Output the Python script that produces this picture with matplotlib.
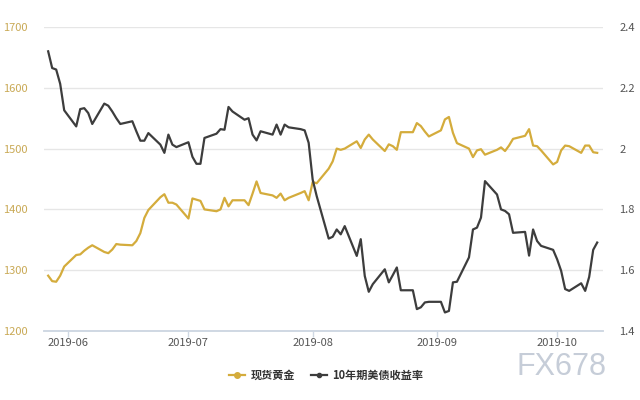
import matplotlib
matplotlib.use("Agg")
import matplotlib.pyplot as plt
import matplotlib.dates as mdates
from matplotlib.lines import Line2D
import pandas as pd

plt.rcParams["font.family"] = ["Noto Sans CJK SC", "DejaVu Sans"]

# trading days 2019-05-27 .. 2019-10-11
dates = pd.bdate_range("2019-05-27", "2019-10-11")

gold = [
    1291, 1282, 1281, 1291, 1306,
    1325, 1326, 1332, 1337, 1341,
    1330, 1328, 1334, 1343, 1342,
    1341, 1348, 1361, 1386, 1399,
    1420, 1425, 1411, 1411, 1408,
    1385, 1418, 1416, 1414, 1400,
    1397, 1400, 1419, 1405, 1415,
    1415, 1407, 1426, 1446, 1427,
    1423, 1419, 1426, 1415, 1419,
    1427, 1430, 1415, 1445, 1443,
    1467, 1479, 1500, 1498, 1500,
    1512, 1501, 1515, 1523, 1515,
    1496, 1507, 1504, 1498, 1527,
    1527, 1542, 1537, 1528, 1520,
    1530, 1548, 1552, 1526, 1509,
    1500, 1486, 1497, 1499, 1490,
    1498, 1502, 1496, 1505, 1516,
    1521, 1532, 1505, 1504, 1497,
    1474, 1478, 1497, 1505, 1504,
    1493, 1505, 1505, 1494, 1493,
]

yield_10y = [
    2.320, 2.265, 2.260, 2.213, 2.126,
    2.073, 2.130, 2.133, 2.117, 2.081,
    2.148, 2.141, 2.122, 2.100, 2.081,
    2.090, 2.057, 2.026, 2.026, 2.051,
    2.013, 1.986, 2.046, 2.013, 2.005,
    2.021, 1.973, 1.950, 1.950, 2.035,
    2.049, 2.064, 2.062, 2.137, 2.122,
    2.095, 2.100, 2.046, 2.027, 2.057,
    2.046, 2.079, 2.046, 2.079, 2.070,
    2.064, 2.060, 2.019, 1.898, 1.844,
    1.704, 1.710, 1.734, 1.718, 1.745,
    1.647, 1.702, 1.581, 1.529, 1.554,
    1.603, 1.560, 1.584, 1.609, 1.534,
    1.534, 1.472, 1.478, 1.494, 1.496,
    1.496, 1.461, 1.466, 1.560, 1.562,
    1.642, 1.734, 1.740, 1.773, 1.893,
    1.849, 1.800, 1.795, 1.784, 1.723,
    1.726, 1.648, 1.734, 1.696, 1.680,
    1.667, 1.636, 1.598, 1.538, 1.532,
    1.557, 1.532, 1.578, 1.667, 1.691,
]

gold_ticks = [1200, 1300, 1400, 1500, 1600, 1700]
yield_ticks = [1.4, 1.6, 1.8, 2.0, 2.2, 2.4]
yield_labels = ["1.4", "1.6", "1.8", "2", "2.2", "2.4"]
series_names = ["现货黄金", "10年期美债收益率"]

GOLD = "#d4ac3c"
DARK = "#3d3d3d"
AXIS = "#cfd8e3"

fig = plt.figure(figsize=(6.4, 4.0), dpi=100)
ax = fig.add_axes([0.069, 0.1725, 0.873, 0.76])
ax2 = ax.twinx()

ax.plot(dates, gold, color=GOLD, lw=1.6, zorder=3)
ax2.plot(dates, yield_10y, color=DARK, lw=1.6, zorder=3)

ax.set_xlim(pd.Timestamp("2019-05-26"), pd.Timestamp("2019-10-12 10:00"))
ax.set_ylim(1200, 1700)
ax2.set_ylim(1.4, 2.4)
ax.set_yticks(gold_ticks)
ax2.set_yticks(yield_ticks)
ax2.set_yticklabels(yield_labels)

ax.xaxis.set_major_locator(mdates.MonthLocator())
ax.xaxis.set_major_formatter(mdates.DateFormatter("%Y-%m"))

ax.grid(axis="y", color="#e6e6e6", lw=1)
ax.set_axisbelow(True)
for a in (ax, ax2):
    for s in ("top", "left", "right"):
        a.spines[s].set_visible(False)
    a.spines["bottom"].set_color(AXIS)
    a.spines["bottom"].set_linewidth(1.2)

ax.tick_params(axis="x", colors=AXIS, length=4, width=1, pad=1, labelsize=8,
               labelcolor="#555555")
ax.tick_params(axis="y", length=0, pad=12, labelsize=8, labelcolor="#c9a955")
ax2.tick_params(axis="y", length=0, pad=12, labelsize=8, labelcolor="#555555")

handles = [
    Line2D([], [], color=GOLD, lw=1.6, marker="o", markersize=4),
    Line2D([], [], color=DARK, lw=1.6, marker="o", markersize=3),
]
fig.legend(handles, series_names, loc="center", bbox_to_anchor=(0.51, 0.0625),
           ncol=2, frameon=False, handlelength=1.4, handletextpad=0.5,
           columnspacing=1.5, prop={"size": 8, "weight": "bold"},
           labelcolor="#333333")

fig.text(0.877, 0.0625, "FX678", ha="center", va="baseline", fontsize=22,
         color="#c6cdd8", family=["Liberation Sans", "DejaVu Sans"])

fig.savefig("out.png", dpi=100)
